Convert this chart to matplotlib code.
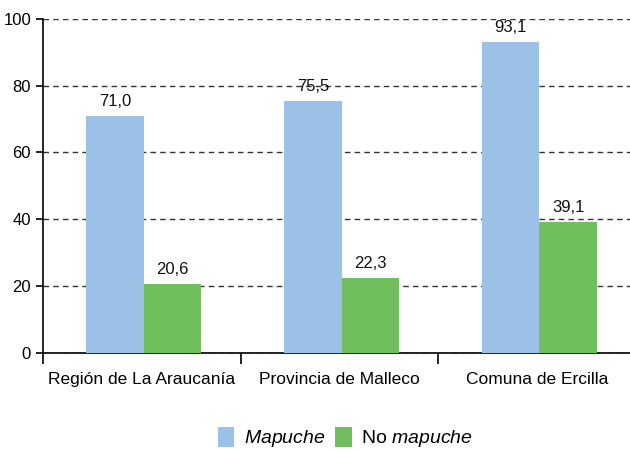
import numpy as np
import matplotlib.pyplot as plt
from matplotlib.ticker import FixedLocator

plt.rcParams["font.family"] = ["Liberation Sans", "DejaVu Sans"]
plt.rcParams["mathtext.fontset"] = "custom"
plt.rcParams["mathtext.it"] = "Liberation Sans:italic"
plt.rcParams["mathtext.rm"] = "Liberation Sans"

categories = ["Región de La Araucanía", "Provincia de Malleco", "Comuna de Ercilla"]
mapuche = [71.0, 75.5, 93.1]
no_mapuche = [20.6, 22.3, 39.1]
yticks = [0, 20, 40, 60, 80, 100]

blue = "#9bc2e6"
green = "#71bf5c"

fig = plt.figure(figsize=(6.3, 4.5), dpi=100)
ax = fig.add_axes([0.068, 0.216, 0.942, 0.742])

x = np.arange(len(categories))
w = 0.29
b1 = ax.bar(x - w / 2 + 0.01, mapuche, w, color=blue, zorder=3, label="$\\it{Mapuche}$")
b2 = ax.bar(x + w / 2 + 0.01, no_mapuche, w, color=green, zorder=3, label="No $\\it{mapuche}$")

for bars, vals in ((b1, mapuche), (b2, no_mapuche)):
    for r, v in zip(bars, vals):
        ax.annotate(f"{v:.1f}".replace(".", ","), (r.get_x() + r.get_width() / 2, v),
                    xytext=(0, 5), textcoords="offset points", ha="center", va="bottom",
                    fontsize=12, color="#111111")

ax.set_ylim(0, 100)
ax.set_xlim(-0.5, 2.5)
ax.set_yticks(yticks)
ax.yaxis.grid(True, linestyle=(0, (4, 3)), color="#333333", linewidth=1)
ax.set_axisbelow(True)
ax.set_xticks(x)
ax.set_xticklabels(categories, fontsize=12.5)
ax.tick_params(axis="x", length=0, pad=14)
ax.xaxis.set_minor_locator(FixedLocator([-0.5, 0.5, 1.5]))
ax.tick_params(axis="x", which="minor", length=8, width=1.2, direction="out")
ax.tick_params(axis="y", labelsize=12, length=5, width=1.2)
for s in ("top", "right"):
    ax.spines[s].set_visible(False)
for s in ("left", "bottom"):
    ax.spines[s].set_linewidth(1.2)

ax.legend(loc="center", bbox_to_anchor=(0.51, -0.255), ncol=2, frameon=False,
          fontsize=14, handlelength=0.85, handleheight=1.2, handletextpad=0.5,
          columnspacing=0.5)

fig.savefig("out.png", dpi=100)
